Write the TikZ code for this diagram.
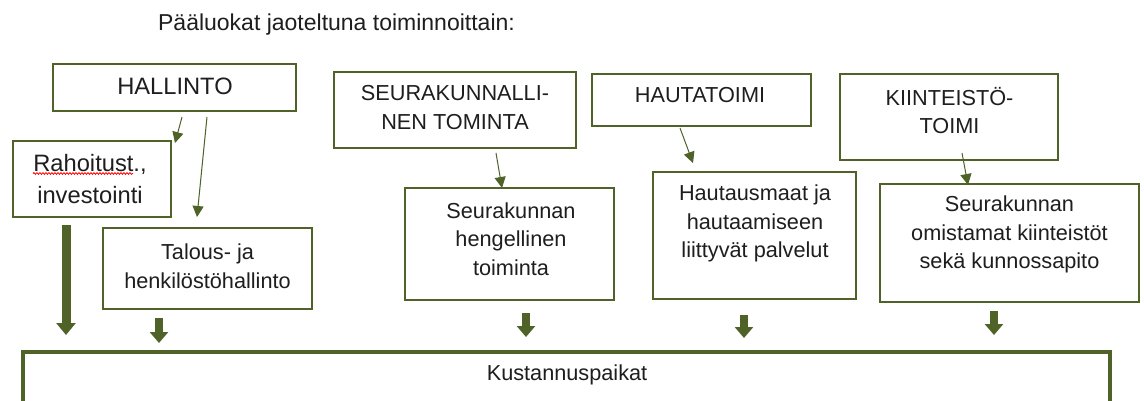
\documentclass[tikz,border=0pt]{standalone}
\usepackage{fontspec}
\setmainfont{Liberation Sans}
\usetikzlibrary{arrows.meta,calc,decorations.pathmorphing}
\definecolor{grn}{HTML}{4F6228}
\definecolor{txtc}{HTML}{1E1E1E}
\begin{document}
\begin{tikzpicture}[x=1pt,y=-1pt,
  box/.style={draw=grn, line width=2.5pt, fill=white, inner sep=0pt, outer sep=0pt},
  txt/.style={font=\fontsize{21.7}{28.5}\selectfont, align=center, text=txtc, inner sep=0pt},
  bigtxt/.style={font=\fontsize{23.7}{32}\selectfont, align=center, text=txtc, inner sep=0pt},
  fineline/.style={draw=grn, line width=1pt, -{Triangle[width=11pt,length=11pt]}},
  fatarrow/.style={draw=grn, line width=7.5pt, -{Triangle[width=18pt,length=11pt]}},
  bigfatarrow/.style={draw=grn, line width=9pt, -{Triangle[width=19pt,length=12pt]}}]
\useasboundingbox (0,0) rectangle (1144,401);
\clip (0,0) rectangle (1144,401);
\fill[white] (0,0) rectangle (1144,401);

% title
\node[txt, font=\fontsize{23}{28}\selectfont, anchor=base] (title) at (336.5,30.5) {Pääluokat jaoteltuna toiminnoittain:};

% boxes
\node[box, minimum width=243pt, minimum height=47pt] (hal) at (174.5,87.5) {};
\node[box, minimum width=158pt, minimum height=76pt] (rah) at (92,179) {};
\node[box, minimum width=209pt, minimum height=81pt] (tal) at (207.5,268.5) {};
\node[box, minimum width=242pt, minimum height=76pt] (seu) at (455,110) {};
\node[box, minimum width=209pt, minimum height=112pt] (heng) at (509.5,244) {};
\node[box, minimum width=219pt, minimum height=52pt] (hau) at (701.5,100) {};
\node[box, minimum width=203pt, minimum height=127pt] (haum) at (754.5,235.5) {};
\node[box, minimum width=218pt, minimum height=86pt] (kii) at (949,117) {};
\node[box, minimum width=259pt, minimum height=118pt] (omi) at (1009.5,243) {};
\node[box, line width=3.5pt, minimum width=1087pt, minimum height=100pt] (kus) at (566.5,402) {};

% texts
\node[bigtxt] (halT) at (175,86) {HALLINTO};
\node[bigtxt] (rahT) at (90,179) {Rahoitust.,\\investointi};
\node[txt] (talT) at (207.5,266) {Talous- ja\\henkilöstöhallinto};
\node[txt] (seuT) at (455,107.5) {SEURAKUNNALLI-\\NEN TOMINTA};
\node[txt] (hengT) at (511,239) {Seurakunnan\\hengellinen\\toiminta};
\node[txt] (hauT) at (700,95) {HAUTATOIMI};
\node[txt] (haumT) at (755,223.5) {Hautausmaat ja\\hautaamiseen\\liittyvät palvelut};
\node[txt] (kiiT) at (949.5,110.5) {KIINTEISTÖ-\\TOIMI};
\node[txt] (omiT) at (1009.5,234.5) {Seurakunnan\\omistamat kiinteistöt\\sekä kunnossapito};
\node[txt] (kusT) at (567,375) {Kustannuspaikat};

% spell-check underline
\draw[red, line width=0.8pt, decorate, decoration={snake, amplitude=0.9pt, segment length=3pt}] (33,173.5) -- (133,173.5);

% thin arrows
\draw[fineline] ($(hal.south)+(7.5,6)$) -- ($(rah.north east)+(4,2)$);
\draw[fineline] ($(hal.south)+(32.5,6)$) -- ($(tal.north)+(-10.5,-11)$);
\draw[fineline] ($(seu.south)+(41,5)$) -- ($(heng.north)+(-7.5,0)$);
\draw[fineline] ($(hau.south)+(-21.5,2)$) -- ($(haum.north)+(-61.5,-9)$);
\draw[fineline] ($(kii.south)+(13,-7)$) -- ($(omi.north)+(-41.5,1)$);

% thick arrows
\draw[bigfatarrow] ($(rah.south)+(-26,8)$) -- ($(kus.north west)+(43,-17)$);
\draw[fatarrow] ($(tal.south)+(-48.5,9)$) -- ($(kus.north west)+(136,-9)$);
\draw[fatarrow] ($(heng.south)+(16.5,13)$) -- ($(kus.north west)+(503,-15)$);
\draw[fatarrow] ($(haum.south)+(-10.5,16)$) -- ($(kus.north west)+(721,-14)$);
\draw[fatarrow] ($(omi.south)+(-15.5,9)$) -- ($(kus.north west)+(971,-17)$);
\end{tikzpicture}
\end{document}
